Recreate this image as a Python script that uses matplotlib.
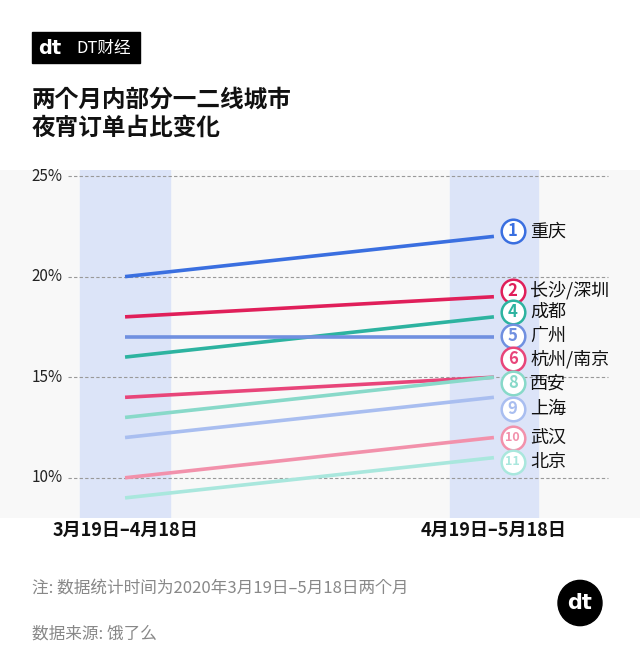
import matplotlib
matplotlib.use("Agg")
import matplotlib.pyplot as plt
from matplotlib.patches import Rectangle, Circle

plt.rcParams["font.family"] = ["Noto Sans CJK SC", "Noto Sans CJK JP", "Noto Sans CJK TC",
                               "Noto Sans CJK KR", "DejaVu Sans"]

periods = ["3月19日–4月18日", "4月19日–5月18日"]
cities = ["重庆", "长沙/深圳", "成都", "广州", "杭州/南京", "西安", "上海", "武汉", "北京"]
ranks = ["1", "2", "4", "5", "6", "8", "9", "10", "11"]
start = [20, 18, 16, 17, 14, 13, 12, 10, 9]
end = [22, 19, 18, 17, 15, 15, 14, 12, 11]
label_y = [22.25, 19.3, 18.25, 17.05, 15.9, 14.7, 13.4, 12.0, 10.8]
yticks = [10, 15, 20, 25]
colors = ["#3a6fe0", "#e01f5a", "#2db3a0", "#7090e0", "#e8457a",
          "#88d9c9", "#a9bef0", "#f291ab", "#a9e7dd"]

fig = plt.figure(figsize=(6.4, 6.58), dpi=100)
ax = fig.add_axes([0, 1 - 518 / 658, 1, 348 / 658])
ax.set_facecolor("#f8f8f8")
ax.set_xlim(-0.339, 1.396)
ax.set_ylim(8, 25.3)
for s in ax.spines.values():
    s.set_visible(False)
ax.set_xticks([]); ax.set_yticks([])

for x0, x1 in [(-0.122, 0.122), (0.881, 1.119)]:
    ax.axvspan(x0, x1, color="#dce4f8", zorder=0)
for t in yticks:
    ax.hlines(t, -0.154, 1.309, colors="#999999", linestyles=(0, (3, 2)), lw=0.8, zorder=1)
    ax.text(-0.17, t, f"{t}%", ha="right", va="center", fontsize=11, color="#222222")

for i, c in enumerate(cities):
    ax.plot([0, 1], [start[i], end[i]], color=colors[i], lw=2.6, zorder=3,
            solid_capstyle="butt")
    ax.plot(1.051, label_y[i], "o", ms=17, mfc="white", mec=colors[i], mew=1.8, zorder=4)
    ax.text(1.051, label_y[i], ranks[i], ha="center", va="center", fontweight="bold",
            fontsize=9 if len(ranks[i]) > 1 else 12, color=colors[i], zorder=5)
    ax.text(1.098, label_y[i], c, ha="left", va="center", fontsize=13, color="#111111")

for x, p in zip([0, 1], periods):
    fig.text((125 + x * 369) / 640, 1 - 530 / 658, p, ha="center", va="center",
             fontsize=13, fontweight="bold", color="#111111")

# header logo
fig.patches.append(Rectangle((32 / 640, 1 - 63 / 658), 108 / 640, 31 / 658,
                             transform=fig.transFigure, color="black"))
fig.text(38 / 640, 1 - 48 / 658, "dt", color="white", fontsize=14, fontweight="bold",
         va="center", family="DejaVu Sans")
fig.text(76 / 640, 1 - 48 / 658, "DT财经", color="white", fontsize=12, va="center")
fig.text(32 / 640, 1 - 100 / 658, "两个月内部分一二线城市", fontsize=17, fontweight="bold",
         va="center", color="#111111")
fig.text(32 / 640, 1 - 128 / 658, "夜宵订单占比变化", fontsize=17, fontweight="bold",
         va="center", color="#111111")

fig.text(32 / 640, 1 - 588 / 658, "注: 数据统计时间为2020年3月19日–5月18日两个月",
         fontsize=12, color="#888888", va="center")
fig.text(32 / 640, 1 - 634 / 658, "数据来源: 饿了么", fontsize=12, color="#888888", va="center")
fig.patches.append(Circle((580 / 640, 1 - 603 / 658), 22 / 640, transform=fig.transFigure,
                          color="black"))
fig.text(580 / 640, 1 - 603 / 658, "dt", color="white", fontsize=15, fontweight="bold",
         ha="center", va="center", family="DejaVu Sans")

fig.savefig("out.png", dpi=100)
